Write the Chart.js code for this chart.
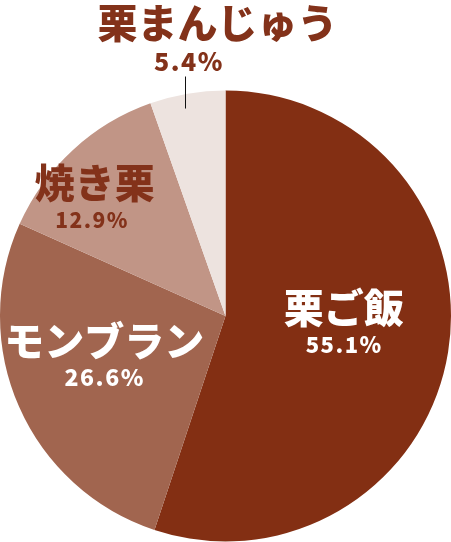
<!DOCTYPE html>
<html>
<head>
<meta charset="utf-8">
<script src="https://cdn.jsdelivr.net/npm/chart.js@4/dist/chart.umd.min.js"></script>
<style>
  html, body { margin: 0; padding: 0; background: #ffffff; }
  #wrap { width: 451px; height: 542px; position: relative; }
</style>
</head>
<body>
<div id="wrap"><canvas id="c"></canvas></div>
<script>
// ---- data ----
const categories = ['栗ご飯', 'モンブラン', '焼き栗', '栗まんじゅう'];
const shares = [55.1, 26.6, 12.9, 5.4];

// ---- styles ----
const sliceColors = ['#832f13', '#a1654f', '#c19586', '#ede3df'];
const labelColors = ['#ffffff', '#ffffff', '#83321a', '#83321a'];
const pctSizes = [22, 23, 21, 25];
// label placement relative to pie centre, in units of the radius
const labelLayout = [
  { title: [0.524, -0.038], pct: [0.522, 0.126] },
  { title: [-0.538, 0.111], pct: [-0.540, 0.273] },
  { title: [-0.580, -0.591], pct: [-0.596, -0.427] },
  { title: [-0.036, -1.300], pct: [-0.167, -1.127], line: [-0.178, -0.920, -1.062] }
];
const FONT = '"Noto Sans CJK JP", "Noto Sans", sans-serif';

const labelPlugin = {
  id: 'sliceLabels',
  afterDatasetsDraw(chart) {
    const ctx = chart.ctx;
    const meta = chart.getDatasetMeta(0);
    meta.data.forEach((arc, i) => {
      const { x: cx, y: cy, outerRadius: R } = arc.getProps(['x', 'y', 'outerRadius'], true);
      const L = labelLayout[i];
      ctx.save();
      ctx.textAlign = 'center';
      ctx.textBaseline = 'middle';
      ctx.fillStyle = labelColors[i];
      if (L.line) {
        ctx.strokeStyle = '#111111';
        ctx.lineWidth = 1;
        const lx = Math.round(cx + L.line[0] * R) + 0.5;
        ctx.beginPath();
        ctx.moveTo(lx, cy + L.line[1] * R);
        ctx.lineTo(lx, cy + L.line[2] * R);
        ctx.stroke();
      }
      ctx.font = '900 40px ' + FONT;
      ctx.letterSpacing = '0px';
      ctx.fillText(categories[i], cx + L.title[0] * R, cy + L.title[1] * R);
      ctx.font = '900 ' + pctSizes[i] + 'px ' + FONT;
      ctx.letterSpacing = '1.5px';
      ctx.fillText(shares[i].toFixed(1) + '%', cx + L.pct[0] * R + 1, cy + L.pct[1] * R);
      ctx.restore();
    });
  }
};

new Chart(document.getElementById('c'), {
  type: 'pie',
  data: {
    labels: categories,
    datasets: [{
      data: shares,
      backgroundColor: sliceColors,
      borderWidth: 0,
      hoverOffset: 0
    }]
  },
  options: {
    responsive: true,
    maintainAspectRatio: false,
    animation: false,
    layout: { padding: { top: 90, left: 0, right: 0, bottom: 0 } },
    plugins: {
      legend: { display: false },
      tooltip: { enabled: false }
    }
  },
  plugins: [labelPlugin]
});
</script>
</body>
</html>
